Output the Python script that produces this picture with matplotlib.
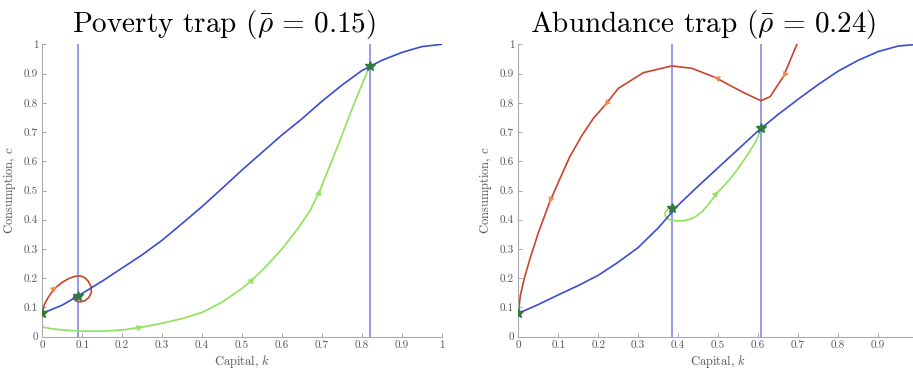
import matplotlib
matplotlib.use("Agg")
import matplotlib.pyplot as plt
import numpy as np

plt.rcParams['font.family'] = ['cmr10', 'DejaVu Serif']
plt.rcParams['mathtext.fontset'] = 'cm'
plt.rcParams['axes.formatter.use_mathtext'] = True

# ---- Poverty trap (left) ----
pov_title = r'Poverty trap ($\bar{\rho}\,=\,0.15$)'
pov_blue_k = [0, 0.05, 0.1, 0.15, 0.2, 0.25, 0.3, 0.35, 0.4, 0.45, 0.5, 0.55, 0.6, 0.65, 0.7,
              0.75, 0.8, 0.85, 0.9, 0.95, 1.0]
pov_blue_c = [0.08, 0.108, 0.148, 0.19, 0.235, 0.28, 0.33, 0.387, 0.445, 0.507, 0.57, 0.63,
              0.69, 0.745, 0.805, 0.86, 0.91, 0.945, 0.972, 0.992, 1.0]
pov_red_k = [0, 0.005, 0.015, 0.025, 0.036, 0.05, 0.065, 0.08, 0.095, 0.105, 0.115, 0.122,
             0.123, 0.117, 0.107, 0.095, 0.085, 0.078, 0.079, 0.09]
pov_red_c = [0.08, 0.11, 0.135, 0.155, 0.171, 0.186, 0.198, 0.206, 0.208, 0.203, 0.19, 0.172,
             0.152, 0.135, 0.123, 0.119, 0.122, 0.13, 0.138, 0.14]
pov_green_k = [0, 0.025, 0.05, 0.1, 0.15, 0.2, 0.25, 0.3, 0.35, 0.4, 0.45, 0.5, 0.53, 0.56,
               0.6, 0.64, 0.67, 0.695, 0.72, 0.745, 0.77, 0.795, 0.82]
pov_green_c = [0.033, 0.027, 0.023, 0.019, 0.019, 0.023, 0.033, 0.046, 0.062, 0.083, 0.118,
               0.165, 0.2, 0.24, 0.3, 0.37, 0.43, 0.5, 0.585, 0.67, 0.76, 0.845, 0.927]
pov_vlines = [0.09, 0.82]
pov_stars_k = [0, 0.09, 0.82]
pov_stars_c = [0.08, 0.14, 0.927]
pov_red_arrow_k = [0.036]
pov_green_arrow_k = [0.25, 0.53, 0.695]

# ---- Abundance trap (right) ----
abd_title = r'Abundance trap ($\bar{\rho}\,=\,0.24$)'
abd_blue_k = [0, 0.05, 0.1, 0.15, 0.2, 0.25, 0.3, 0.35, 0.4, 0.45, 0.5, 0.55, 0.6, 0.65, 0.7,
              0.75, 0.8, 0.85, 0.9, 0.95, 1.0]
abd_blue_c = [0.08, 0.11, 0.143, 0.175, 0.21, 0.255, 0.305, 0.372, 0.45, 0.515, 0.578, 0.641,
              0.704, 0.76, 0.812, 0.862, 0.908, 0.945, 0.975, 0.994, 1.0]
abd_red_k = [0, 0.005, 0.015, 0.03, 0.05, 0.079, 0.104, 0.129, 0.16, 0.188, 0.217,
             0.25, 0.313, 0.384, 0.434, 0.492, 0.559, 0.607, 0.63, 0.663, 0.697]
abd_red_c = [0.08, 0.14, 0.2, 0.27, 0.355, 0.462, 0.54, 0.616, 0.69, 0.747, 0.792,
             0.849, 0.903, 0.926, 0.918, 0.887, 0.838, 0.807, 0.821, 0.889, 1.0]
abd_green_k = [0.385, 0.378, 0.371, 0.367, 0.368, 0.374, 0.384, 0.398, 0.415, 0.43, 0.445, 0.46,
               0.475, 0.49, 0.5, 0.515, 0.53, 0.55, 0.57, 0.59, 0.6, 0.607]
abd_green_c = [0.44, 0.44, 0.433, 0.423, 0.412, 0.403, 0.398, 0.396, 0.397, 0.402, 0.412, 0.428,
               0.452, 0.478, 0.496, 0.517, 0.54, 0.575, 0.615, 0.658, 0.685, 0.713]
abd_vlines = [0.385, 0.607]
abd_stars_k = [0, 0.385, 0.607]
abd_stars_c = [0.08, 0.44, 0.713]
abd_red_arrow_k = [0.079, 0.217, 0.492, 0.663]
abd_green_arrow_k = [0.5]

ticks = [0, 0.1, 0.2, 0.3, 0.4, 0.5, 0.6, 0.7, 0.8, 0.9, 1]
tick_labels = ['0', '0.1', '0.2', '0.3', '0.4', '0.5', '0.6', '0.7', '0.8', '0.9', '1']

blue = '#3a4cd0'
vblue = '#7a80e8'
red = '#c9442c'
orange = '#f0894a'
green = '#8fe25a'
star = '#2f7a3c'


def arrows(ax, k, c, at_k, color, backward=False):
    k = np.asarray(k)
    c = np.asarray(c)
    for ak in at_k:
        i = int(np.argmin(np.abs(k - ak)))
        j = i - 1 if backward else i + 1
        x1 = k[i] + (k[j] - k[i]) * 0.05
        y1 = c[i] + (c[j] - c[i]) * 0.05
        ax.annotate('', xy=(x1, y1), xytext=(k[i], c[i]),
                    arrowprops=dict(arrowstyle='-|>', color=color, lw=0.6,
                                    mutation_scale=9, shrinkA=0, shrinkB=0),
                    zorder=4)


def panel(ax, title, tx, bk, bc, rk, rc, gk, gc, vl, sk, sc, xlabels):
    for v in vl:
        ax.axvline(v, color=vblue, lw=1.1, zorder=1)
    ax.plot(bk, bc, color=blue, lw=1.2, zorder=3)
    ax.plot(gk, gc, color=green, lw=1.2, zorder=2)
    ax.plot(rk, rc, color=red, lw=1.2, zorder=2)
    ax.plot(sk, sc, linestyle='none', marker='*', ms=7, color=star, zorder=5)
    ax.set_xlim(0, 1)
    ax.set_ylim(0, 1)
    ax.set_xticks(ticks)
    ax.set_xticklabels(xlabels)
    ax.set_yticks(ticks)
    ax.set_yticklabels(tick_labels)
    ax.tick_params(direction='in', length=3, width=0.6, colors='#999999',
                   labelcolor='#555555', labelsize=8, pad=3)
    for s in ['top', 'right']:
        ax.spines[s].set_visible(False)
    for s in ['left', 'bottom']:
        ax.spines[s].set_color('#aaaaaa')
        ax.spines[s].set_linewidth(0.8)
    ax.set_xlabel(r'Capital, $k$', fontsize=9, color='#555555', labelpad=2)
    ax.set_ylabel(r'Consumption, $c$', fontsize=9, color='#555555', labelpad=4)
    ax.set_title(title, fontsize=21, x=tx, pad=9)


fig = plt.figure(figsize=(9.13, 3.76), dpi=100)
W, H = 913., 376.
ax1 = fig.add_axes([42.3 / W, 1 - 336.7 / H, 399.4 / W, 292.4 / H])
ax2 = fig.add_axes([518.3 / W, 1 - 336.7 / H, 399.7 / W, 292.4 / H])

panel(ax1, pov_title, 0.455, pov_blue_k, pov_blue_c, pov_red_k, pov_red_c,
      pov_green_k, pov_green_c, pov_vlines, pov_stars_k, pov_stars_c, tick_labels)
arrows(ax1, pov_red_k, pov_red_c, pov_red_arrow_k, orange)
arrows(ax1, pov_green_k, pov_green_c, pov_green_arrow_k, green)

# the right panel runs past the picture edge, so its last x label is not shown
panel(ax2, abd_title, 0.462, abd_blue_k, abd_blue_c, abd_red_k, abd_red_c,
      abd_green_k, abd_green_c, abd_vlines, abd_stars_k, abd_stars_c,
      tick_labels[:-1] + [''])
arrows(ax2, abd_red_k, abd_red_c, abd_red_arrow_k, orange, backward=True)
arrows(ax2, abd_green_k, abd_green_c, abd_green_arrow_k, green)

fig.savefig('out.png', dpi=100)
